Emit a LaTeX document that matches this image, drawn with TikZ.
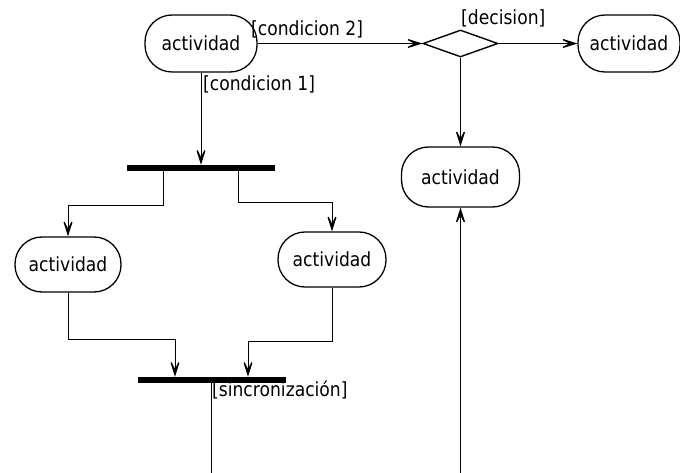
\documentclass[tikz,border=0pt]{standalone}
\usepackage{fontspec}
\setmainfont{DejaVu Sans}[FakeStretch=0.88]
\usetikzlibrary{shapes.geometric,arrows.meta}
\begin{document}
\begin{tikzpicture}[x=1pt,y=-1pt,
  txt/.style={font=\fontsize{19.5}{22}\selectfont},
  act/.style={txt, draw, line width=1.3pt, rounded corners=27pt, inner sep=0pt},
  bar/.style={fill=black, inner sep=0pt, minimum height=6pt, minimum width=148pt},
  conn/.style={draw, line width=0.8pt, -{Stealth[length=22pt,width=14pt,inset=14pt,line width=1.3pt]}},
  plain/.style={draw, line width=0.8pt},
  lbl/.style={txt, inner sep=0pt, anchor=base west},
]
\useasboundingbox (0,0) rectangle (680,473);

\node[act, minimum width=112pt, minimum height=57pt] (a1) at (201,43.5) {actividad};
\node[draw, diamond, line width=1.4pt, inner sep=0pt, minimum width=75pt, minimum height=27pt] (dec) at (460.5,43.5) {};
\node[act, minimum width=102pt, minimum height=57pt] (a2) at (629,43.5) {actividad};
\node[act, minimum width=118pt, minimum height=60pt] (a3) at (460.5,177) {actividad};
\node[bar] (fork) at (201,168) {};
\node[act, minimum width=106pt, minimum height=55pt] (a4) at (68,264.5) {actividad};
\node[act, minimum width=108pt, minimum height=55pt] (a5) at (332,259.5) {actividad};
\node[bar] (join) at (212,380) {};
\coordinate (endL) at (211,473);
\coordinate (endR) at (460.5,473);

\draw[conn] (a1.east) -- (dec.west);
\node[lbl] (l2) at (251,36) {[condicion 2]};
\draw[conn] (a1.south) -- (fork.north);
\node[lbl] (l1) at (203,91) {[condicion 1]};
\draw[conn] (dec.east) -- (a2.west);
\node[lbl] (ld) at (461,25) {[decision]};
\draw[conn] (dec.south) -- (a3.north);
\draw[conn] (endR) -- (a3.south);

\draw[conn] ([xshift=-38pt]fork.south) -- ++(0,34) -| (a4.north);
\draw[conn] ([xshift=37pt]fork.south) -- ++(0,31) -| (a5.north);
\draw[conn] (a4.south) -- ++(0,47) -| ([xshift=-37pt]join.north);
\draw[conn] (a5.south) -- ++(0,54) -| ([xshift=36pt]join.north);
\draw[plain] (join.south -| endL) -- (endL);
\node[lbl] (ls) at (212,396) {[sincronización]};
\end{tikzpicture}
\end{document}
